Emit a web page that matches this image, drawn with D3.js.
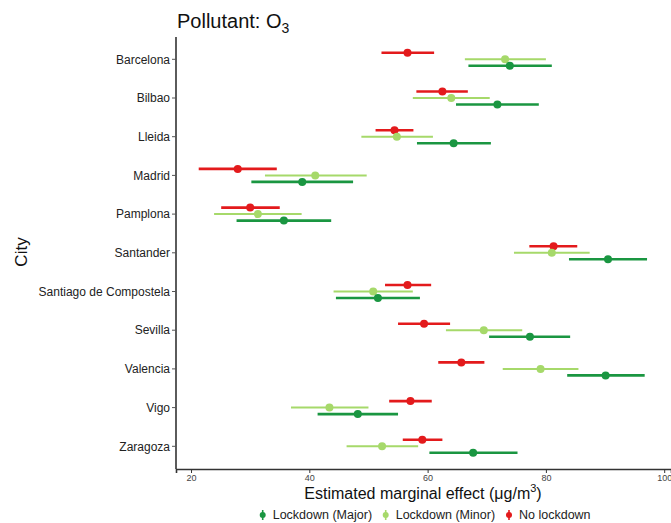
<!DOCTYPE html>
<html><head><meta charset="utf-8">
<script src="https://cdn.jsdelivr.net/npm/d3@7"></script>
<style>body{margin:0;background:#fff;font-family:Arial,"Liberation Sans",sans-serif;}</style>
</head><body><svg id="c" width="671" height="523"></svg>
<script>
const cities = ["Barcelona","Bilbao","Lleida","Madrid","Pamplona","Santander","Santiago de Compostela","Sevilla","Valencia","Vigo","Zaragoza"];
const seriesNames = ["No lockdown","Lockdown (Minor)","Lockdown (Major)"];
const legendOrder = ["Lockdown (Major)","Lockdown (Minor)","No lockdown"];
const colors = ["#e31a1c","#a6d96a","#1a9641"];
// estimates, lower, upper per series in city order
const noLockEst = [56.6,62.5,54.4,27.9,30.0,81.3,56.6,59.4,65.7,57.1,59.1];
const noLockLo  = [52.2,58.1,51.2,21.3,25.1,77.2,52.8,55.0,61.8,53.5,55.8];
const noLockHi  = [61.1,66.8,57.6,34.5,35.0,85.3,60.6,63.8,69.6,60.7,62.5];
const minorEst  = [73.1,64.0,54.8,41.0,31.3,81.0,50.8,69.5,79.1,43.4,52.3];
const minorLo   = [66.3,57.5,48.8,32.5,23.9,74.6,44.1,63.1,72.7,36.9,46.3];
const minorHi   = [80.0,70.5,60.9,49.7,38.7,87.4,57.5,76.0,85.5,50.0,58.4];
const majorEst  = [73.9,71.8,64.4,38.8,35.7,90.5,51.6,77.3,90.1,48.2,67.7];
const majorLo   = [66.9,64.8,58.2,30.2,27.7,83.9,44.5,70.4,83.6,41.4,60.3];
const majorHi   = [81.0,78.8,70.7,47.4,43.7,97.1,58.7,84.1,96.7,55.0,75.2];
const xTicks = [20,40,60,80,100];

const svg = d3.select("#c");
const pLeft = 176, pRight = 671, pTop = 37, pBottom = 469;
const x = d3.scaleLinear().domain([17.46, 101.15]).range([pLeft, pRight]);
const y = d3.scalePoint().domain(cities).range([59.3, 446.3]);
const yc = c => y(c);
const offs = [-6.5, 0, 6.5];
const widths = [2.6, 2.0, 2.6];

const data = [
  {est:noLockEst, lo:noLockLo, hi:noLockHi},
  {est:minorEst, lo:minorLo, hi:minorHi},
  {est:majorEst, lo:majorLo, hi:majorHi}
];

data.forEach((s, si) => {
  const g = svg.append("g");
  cities.forEach((c, i) => {
    const yy = yc(c) + offs[si];
    g.append("line").attr("x1", x(s.lo[i])).attr("x2", x(s.hi[i])).attr("y1", yy).attr("y2", yy)
      .attr("stroke", colors[si]).attr("stroke-width", widths[si]);
    g.append("circle").attr("cx", x(s.est[i])).attr("cy", yy).attr("r", 4).attr("fill", colors[si]);
  });
});

// axes
const xAxis = svg.append("g").attr("transform", `translate(0,${pBottom})`)
  .call(d3.axisBottom(x).tickValues(xTicks).tickSize(4).tickPadding(2));
xAxis.select(".domain").attr("stroke","#333").attr("stroke-width",1.6);
xAxis.selectAll(".tick line").attr("stroke","#333");
xAxis.selectAll("text").attr("font-size", 9).attr("fill","#444").attr("font-family","Arial, 'Liberation Sans', sans-serif");

const yAxisG = svg.append("g").attr("transform", `translate(${pLeft},0)`);
yAxisG.append("line").attr("x1",0).attr("x2",0).attr("y1",pTop).attr("y2",pBottom).attr("stroke","#333").attr("stroke-width",1.6);
cities.forEach(c => {
  yAxisG.append("line").attr("x1",-4).attr("x2",0).attr("y1",yc(c)).attr("y2",yc(c)).attr("stroke","#555");
  yAxisG.append("text").attr("x",-6).attr("y",yc(c)).attr("dy","0.35em").attr("text-anchor","end")
    .attr("font-size",12).attr("fill","#222").text(c);
});

// title
const t = svg.append("text").attr("x",177).attr("y",28).attr("font-size",20).attr("fill","#111");
t.append("tspan").text("Pollutant: O");
t.append("tspan").attr("font-size",14).attr("dy",5).text("3");

// axis labels
const xl = svg.append("text").attr("x",423).attr("y",499).attr("text-anchor","middle").attr("font-size",16).attr("fill","#111");
xl.append("tspan").text("Estimated marginal effect (\u03bcg/m");
xl.append("tspan").attr("font-size",11).attr("dy",-7).text("3");
xl.append("tspan").attr("dy",7).text(")");
svg.append("text").attr("transform","translate(27,252) rotate(-90)").attr("text-anchor","middle").attr("font-size",17).attr("fill","#111").text("City");

// legend
const legX = [262.7, 385.7, 509];
legendOrder.forEach((n, i) => {
  const ci = seriesNames.indexOf(n);
  const g = svg.append("g").attr("transform", `translate(${legX[i]},515)`);
  g.append("line").attr("x1",0).attr("x2",0).attr("y1",-5).attr("y2",5).attr("stroke",colors[ci]).attr("stroke-width",1.6);
  g.append("circle").attr("r",3).attr("fill",colors[ci]);
  g.append("text").attr("x",10).attr("y",0).attr("dy","0.35em").attr("font-size",12.5).attr("fill","#222").text(n);
});
</script></body></html>
